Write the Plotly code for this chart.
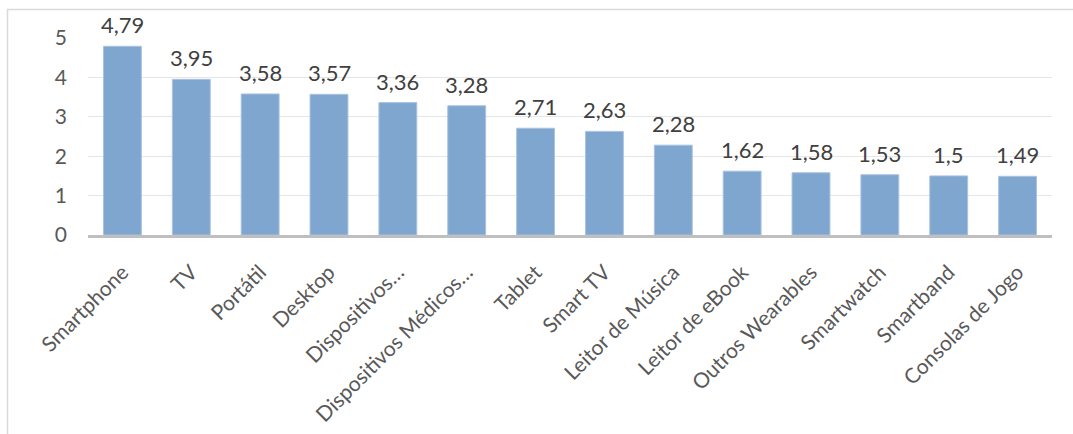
import plotly.graph_objects as go

categories = ["Smartphone", "TV", "Portátil", "Desktop", "Dispositivos…",
              "Dispositivos Médicos…", "Tablet", "Smart TV", "Leitor de Música",
              "Leitor de eBook", "Outros Wearables", "Smartwatch", "Smartband",
              "Consolas de Jogo"]
values = [4.79, 3.95, 3.58, 3.57, 3.36, 3.28, 2.71, 2.63, 2.28, 1.62, 1.58, 1.53, 1.5, 1.49]
y_ticks = [0, 1, 2, 3, 4, 5]

W, H = 1073, 434
ML, MR, MT, MB = 88, 21, 38, 199
FONT = "Lato"

labels = [f"{v:g}".replace(".", ",") for v in values]

fig = go.Figure(go.Bar(
    x=categories, y=values,
    marker=dict(color="#7FA6CF", line=dict(color="#A9C3E0", width=1)),
))

# value labels above each bar
for cat, v, lab in zip(categories, values, labels):
    fig.add_annotation(x=cat, y=v, text=lab, showarrow=False,
                       yanchor="bottom", yshift=6,
                       font=dict(family=FONT, size=22, color="#404040"))

def px_x(p):
    return (p - ML) / (W - ML - MR)

def px_y(p):
    return 1 - (p - MT) / (H - MT - MB)

# chart frame (top and left edges)
fig.add_shape(type="line", xref="paper", yref="paper",
              x0=px_x(7), x1=px_x(1080), y0=px_y(9.5), y1=px_y(9.5),
              line=dict(color="#D9D9D9", width=1.5))
fig.add_shape(type="line", xref="paper", yref="paper",
              x0=px_x(7.5), x1=px_x(7.5), y0=px_y(9), y1=px_y(440),
              line=dict(color="#D9D9D9", width=1.5))

fig.update_layout(
    width=W, height=H,
    margin=dict(l=ML, r=MR, t=MT, b=MB, autoexpand=False),
    paper_bgcolor="white", plot_bgcolor="white",
    bargap=0.45, showlegend=False,
    font=dict(family=FONT, color="#595959"),
    xaxis=dict(tickangle=-45, tickfont=dict(family=FONT, size=21, color="#595959"),
               showline=True, linecolor="#BFBFBF", linewidth=2.5,
               ticks="", showgrid=False, ticklabelstandoff=14),
    yaxis=dict(range=[0, 5], tickvals=y_ticks, ticktext=[str(t) for t in y_ticks],
               tickfont=dict(family=FONT, size=21, color="#595959"),
               showgrid=True, gridcolor="#E6E6E6", gridwidth=1,
               zeroline=False, showline=False, ticks="", ticklabelstandoff=20),
)

fig.write_html("out.html")
